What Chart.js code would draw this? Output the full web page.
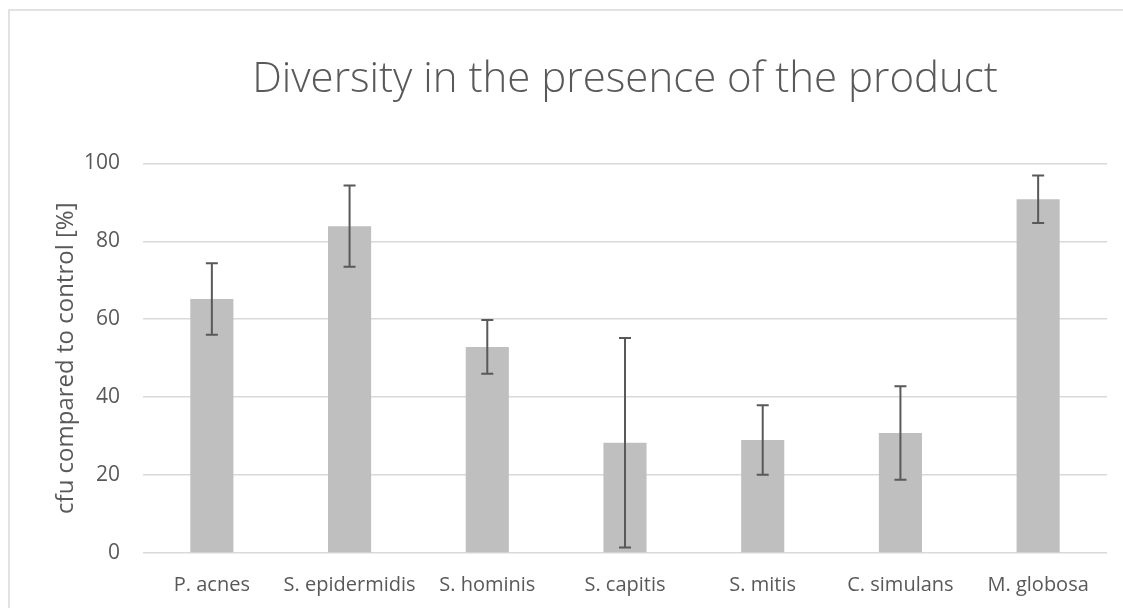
<!DOCTYPE html>
<html>
<head>
<meta charset="utf-8">
<script src="https://cdn.jsdelivr.net/npm/chart.js@4"></script>
<style>
    html, body { margin: 0; padding: 0; background: #fff; }
    #wrap { position: relative; width: 1123px; height: 608px; }
</style>
</head>
<body>
<div id="wrap"><canvas id="chart" width="1123" height="608"></canvas></div>
<script>
const species = ["P. acnes", "S. epidermidis", "S. hominis", "S. capitis", "S. mitis", "C. simulans", "M. globosa"];
const cfuPercent = [65.2, 83.9, 52.9, 28.3, 29.0, 30.8, 90.8];
const errorSize = [9.2, 10.4, 6.9, 26.9, 8.9, 12.0, 6.1];
const yTicks = [0, 20, 40, 60, 80, 100];

const textColor = '#595959';
const gridColor = '#d9d9d9';

// frame round the whole chart, like the office chart border
const framePlugin = {
    id: 'frame',
    beforeDraw(chart) {
        const ctx = chart.ctx;
        ctx.save();
        ctx.strokeStyle = gridColor;
        ctx.lineWidth = 1.5;
        ctx.beginPath();
        ctx.moveTo(9, chart.height + 5);
        ctx.lineTo(9, 10);
        ctx.lineTo(chart.width + 5, 10);
        ctx.stroke();
        ctx.restore();
    }
};

// error bars drawn through the scales
const errorBarPlugin = {
    id: 'errorBars',
    afterDatasetsDraw(chart) {
        const ctx = chart.ctx;
        const meta = chart.getDatasetMeta(0);
        const y = chart.scales.y;
        ctx.save();
        ctx.strokeStyle = textColor;
        ctx.lineWidth = 2;
        meta.data.forEach((bar, i) => {
            const top = y.getPixelForValue(cfuPercent[i] + errorSize[i]);
            const bottom = y.getPixelForValue(cfuPercent[i] - errorSize[i]);
            const x = bar.x;
            ctx.beginPath();
            ctx.moveTo(x, top);
            ctx.lineTo(x, bottom);
            ctx.moveTo(x - 6, top);
            ctx.lineTo(x + 6, top);
            ctx.moveTo(x - 6, bottom);
            ctx.lineTo(x + 6, bottom);
            ctx.stroke();
        });
        ctx.restore();
    }
};

new Chart(document.getElementById('chart'), {
    type: 'bar',
    data: {
        labels: species,
        datasets: [{
            data: cfuPercent,
            backgroundColor: '#bfbfbf',
            borderWidth: 0,
            categoryPercentage: 1,
            barPercentage: 0.313
        }]
    },
    options: {
        responsive: false,
        animation: false,
        layout: { padding: { left: 52, right: 16, top: 0, bottom: 0 } },
        plugins: {
            legend: { display: false },
            tooltip: { enabled: false },
            title: {
                display: true,
                fullSize: false,
                text: 'Diversity in the presence of the product',
                color: textColor,
                font: { family: 'Open Sans', size: 42, weight: '300' },
                padding: { top: 55, bottom: 58 }
            }
        },
        scales: {
            x: {
                grid: { display: false },
                border: { display: false },
                ticks: {
                    color: textColor,
                    font: { family: 'Open Sans', size: 20 },
                    padding: 12,
                    maxRotation: 0,
                    autoSkip: false
                },
                afterFit(scale) { scale.height = 55; }
            },
            y: {
                min: 0,
                max: 100,
                afterBuildTicks(scale) {
                    scale.ticks = yTicks.map(v => ({ value: v }));
                },
                grid: { color: gridColor, lineWidth: 1.5, drawTicks: false },
                border: { display: false },
                ticks: {
                    color: textColor,
                    font: { family: 'Open Sans', size: 21 },
                    padding: 23
                },
                title: {
                    display: true,
                    text: 'cfu compared to control [%]',
                    color: textColor,
                    font: { family: 'Open Sans', size: 24 },
                    padding: 0
                },
                afterFit(scale) { scale.width = 91; }
            }
        }
    },
    plugins: [framePlugin, errorBarPlugin]
});
</script>
</body>
</html>
